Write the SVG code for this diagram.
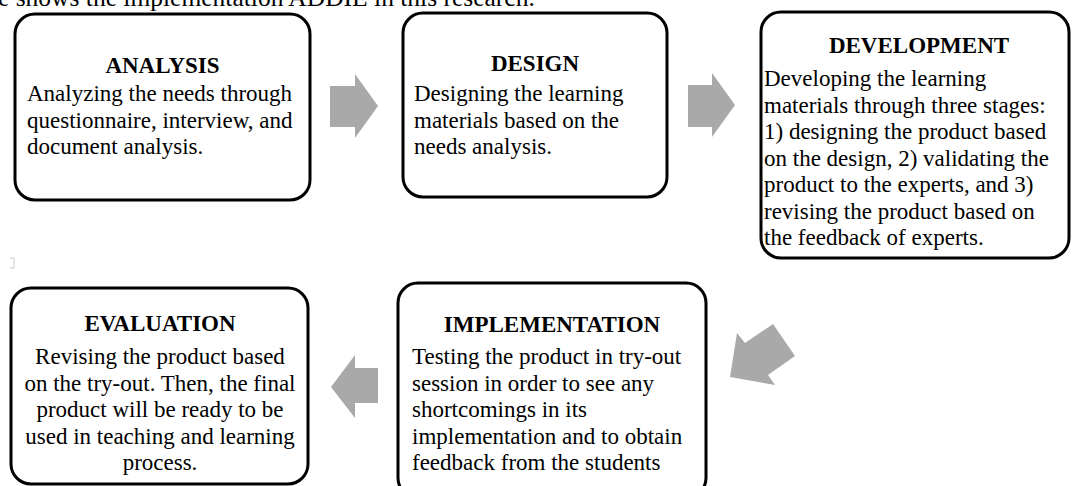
<svg xmlns="http://www.w3.org/2000/svg" width="1072" height="486" viewBox="0 0 1072 486">
<style>
.box{fill:#fff;stroke:#000;stroke-width:3}
.t{font-family:"Liberation Serif","Times New Roman",serif;font-size:23px;font-weight:bold;fill:#000;text-anchor:middle}
.b{font-family:"Liberation Serif","Times New Roman",serif;font-size:23px;fill:#000}
.c{text-anchor:middle}
.arr{fill:#a9a9a9}
</style>
<rect width="1072" height="486" fill="#fff"/>
<text class="b" x="-2" y="6" style="font-size:25.5px">e shows the implementation ADDIE in this research.</text>
<path d="M10 258 H14 V268 H10" fill="none" stroke="#ccc" stroke-width="1"/>
<g id="connectors">
<polygon class="arr" points="330,86 355,86 355,74 378,106 355,138 355,127 330,127"/>
<polygon class="arr" points="688,85 712,85 712,73 735,105 712,137 712,127 688,127"/>
<polygon class="arr" points="730,377 737,333 745,343 773,324 795,356 768,375 775,385"/>
<polygon class="arr" points="378,368 355,368 355,355 331,387 355,418 355,403 378,403"/>
</g>
<g id="analysis">
<rect class="box" x="15" y="14" width="295" height="186" rx="20"/>
<text class="t" x="162.5" y="73">ANALYSIS</text>
<text class="b" x="27" y="101">Analyzing the needs through</text>
<text class="b" x="27" y="127.5">questionnaire, interview, and</text>
<text class="b" x="27" y="154">document analysis.</text>
</g>
<g id="design">
<rect class="box" x="403" y="13" width="264" height="184" rx="20"/>
<text class="t" x="535" y="71">DESIGN</text>
<text class="b" x="414" y="101">Designing the learning</text>
<text class="b" x="414" y="127.5">materials based on the</text>
<text class="b" x="414" y="154">needs analysis.</text>
</g>
<g id="development">
<rect class="box" x="761" y="12" width="308" height="246" rx="20"/>
<text class="t" x="919" y="53">DEVELOPMENT</text>
<text class="b" x="764" y="86">Developing the learning</text>
<text class="b" x="764" y="112.5">materials through three stages:</text>
<text class="b" x="764" y="139">1) designing the product based</text>
<text class="b" x="764" y="165.5">on the design, 2) validating the</text>
<text class="b" x="764" y="192">product to the experts, and 3)</text>
<text class="b" x="764" y="218.5">revising the product based on</text>
<text class="b" x="764" y="245">the feedback of experts.</text>
</g>
<g id="implementation">
<rect class="box" x="398" y="283" width="308" height="215" rx="20"/>
<text class="t" x="552" y="332">IMPLEMENTATION</text>
<text class="b" x="412" y="364">Testing the product in try-out</text>
<text class="b" x="412" y="390.5">session in order to see any</text>
<text class="b" x="412" y="417">shortcomings in its</text>
<text class="b" x="412" y="443.5">implementation and to obtain</text>
<text class="b" x="412" y="470">feedback from the students</text>
</g>
<g id="evaluation">
<rect class="box" x="11" y="288" width="297" height="196" rx="20"/>
<text class="t" x="160" y="331">EVALUATION</text>
<text class="b c" x="160" y="364">Revising the product based</text>
<text class="b c" x="160" y="390.5">on the try-out. Then, the final</text>
<text class="b c" x="160" y="417">product will be ready to be</text>
<text class="b c" x="160" y="443.5">used in teaching and learning</text>
<text class="b c" x="160" y="470">process.</text>
</g>
</svg>
